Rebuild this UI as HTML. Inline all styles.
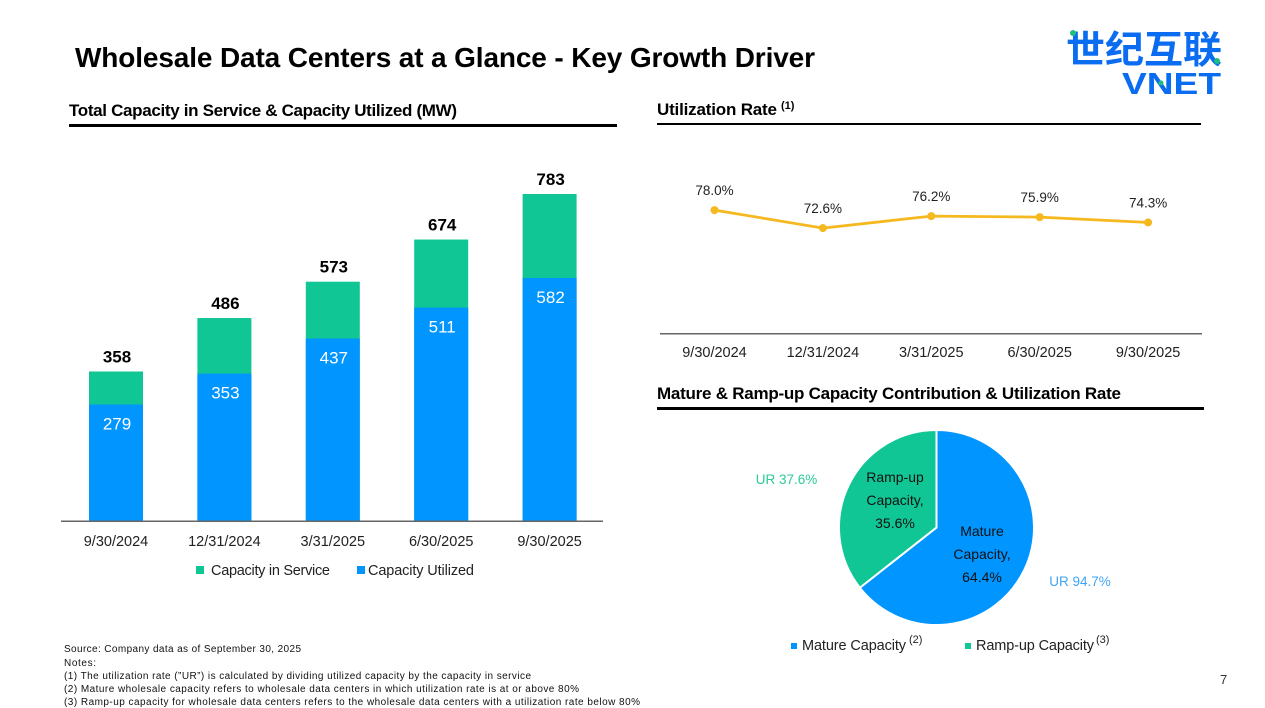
<!DOCTYPE html>
<html lang="en">
<head>
<meta charset="utf-8">
<title>Wholesale Data Centers at a Glance</title>
<style>
html,body{margin:0;padding:0;background:#fff;width:1265px;height:708px;overflow:hidden}
svg{display:block;font-family:"Liberation Sans","Noto Sans CJK SC",sans-serif}
</style>
</head>
<body>
<svg id="slide" width="1265" height="708" viewBox="0 0 1265 708" xmlns="http://www.w3.org/2000/svg">
  <text x="75" y="67" font-size="28" font-weight="700" fill="#000" textLength="740">Wholesale Data Centers at a Glance - Key Growth Driver</text>

  <g>
    <text x="1066" y="63" font-size="38" font-weight="700" fill="#0A6CF0" textLength="156" lengthAdjust="spacingAndGlyphs" style="font-family:'Noto Sans CJK SC',sans-serif">世纪互联</text>
    <text x="1122" y="94" font-size="31" font-weight="700" fill="#0A6CF0" textLength="99" lengthAdjust="spacingAndGlyphs">VNET</text>
    <circle cx="1073" cy="33" r="3" fill="#1DBE7E"/>
    <circle cx="1217" cy="61" r="3" fill="#1DBE7E"/>
    <circle cx="1161" cy="83" r="2.5" fill="#1DBE7E"/>
  </g>

  <text x="69" y="116" font-size="17" font-weight="700" fill="#000" textLength="388">Total Capacity in Service &amp; Capacity Utilized (MW)</text>
  <rect x="69" y="124" width="548" height="3" fill="#000"/>

  <text x="657" y="115" font-size="17" font-weight="700" fill="#000" textLength="120">Utilization Rate</text>
  <text x="781" y="109" font-size="11" font-weight="700" fill="#000">(1)</text>
  <rect x="657" y="123" width="544" height="2" fill="#000"/>

  <text x="657" y="399" font-size="17" font-weight="700" fill="#000" textLength="464">Mature &amp; Ramp-up Capacity Contribution &amp; Utilization Rate</text>
  <rect x="657" y="407" width="547" height="3" fill="#000"/>

  <g id="bars"></g>
  <g id="line"></g>
  <g id="pie"></g>

  <g>
    <rect x="196" y="566" width="8" height="8" fill="#10C695"/>
    <text x="211" y="575" font-size="14.5" fill="#222" textLength="119">Capacity in Service</text>
    <rect x="357" y="566" width="8" height="8" fill="#0095FF"/>
    <text x="368" y="575" font-size="14.5" fill="#222" textLength="106">Capacity Utilized</text>
  </g>

  <g>
    <rect x="791" y="643" width="6" height="6" fill="#0095FF"/>
    <text x="802" y="650" font-size="14.5" fill="#222" textLength="104">Mature Capacity</text>
    <text x="909" y="643" font-size="11" fill="#222">(2)</text>
    <rect x="965" y="643" width="6" height="6" fill="#10C695"/>
    <text x="976" y="650" font-size="14.5" fill="#222" textLength="118">Ramp-up Capacity</text>
    <text x="1096" y="643" font-size="11" fill="#222">(3)</text>
  </g>

  <g font-size="10" fill="#111">
    <text x="64" y="652" textLength="237">Source: Company data as of September 30, 2025</text>
    <text x="64" y="666" textLength="32">Notes:</text>
    <text x="64" y="679" textLength="467">(1) The utilization rate (”UR”) is calculated by dividing utilized capacity by the capacity in service</text>
    <text x="64" y="692" textLength="515">(2) Mature wholesale capacity refers to wholesale data centers in which utilization rate is at or above 80%</text>
    <text x="64" y="705" textLength="576">(3) Ramp-up capacity for wholesale data centers refers to the wholesale data centers with a utilization rate below 80%</text>
  </g>
  <text x="1220" y="684" font-size="13" fill="#333">7</text>
</svg>

<script>
var NS = 'http://www.w3.org/2000/svg';

// Capacity chart data
var barCategories = ['9/30/2024', '12/31/2024', '3/31/2025', '6/30/2025', '9/30/2025'];
var capacityInService = [358, 486, 573, 674, 783];
var capacityUtilized = [279, 353, 437, 511, 582];

// Utilization chart data
var lineCategories = ['9/30/2024', '12/31/2024', '3/31/2025', '6/30/2025', '9/30/2025'];
var utilizationRates = [78.0, 72.6, 76.2, 75.9, 74.3];

// Pie chart data
var pieLabels = ['Mature', 'Ramp-up'];
var pieShares = [64.4, 35.6];
var pieRates = [94.7, 37.6];

function make(parent, tag, attrs, text) {
  var el = document.createElementNS(NS, tag);
  for (var k in attrs) el.setAttribute(k, attrs[k]);
  if (text !== undefined) el.textContent = text;
  parent.appendChild(el);
  return el;
}

// Bar chart axes
var barBase = 521, barScale = 327 / 783, barWidth = 54;
function barX(i) { return 116 + i * 108.4; }
function barY(v) { return barBase - v * barScale; }

var barsG = document.getElementById('bars');
barCategories.forEach(function (cat, i) {
  var cx = barX(i);
  var total = capacityInService[i], used = capacityUtilized[i];
  var r1 = make(barsG, 'rect', {x: cx - barWidth / 2, y: barY(total), width: barWidth, height: barBase - barY(total), fill: '#10C695'});
  
  
  var r2 = make(barsG, 'rect', {x: cx - barWidth / 2, y: barY(used), width: barWidth, height: barBase - barY(used), fill: '#0095FF'});
  
  
  var t1 = make(barsG, 'text', {x: cx + 1, y: barY(total) - 9, 'text-anchor': 'middle', 'font-size': 17, 'font-weight': 700, fill: '#000'}, String(total));
  
  
  var t2 = make(barsG, 'text', {x: cx + 1, y: barY(used) + 25, 'text-anchor': 'middle', 'font-size': 17, fill: '#fff'}, String(used));
  
  
  var t3 = make(barsG, 'text', {x: cx, y: 546, 'text-anchor': 'middle', 'font-size': 14.5, fill: '#222'}, cat);
  
  
});
var barAxis = make(barsG, 'rect', {x: 61, y: 520.5, width: 542, height: 1.5, fill: '#666'});



// Line chart axes
var lineBase = 333, lineScale = 3.33, lineMin = 41.1;
function lineX(i) { return 714.5 + i * 108.4; }
function lineY(v) { return lineBase - (v - lineMin) * lineScale; }

var lineG = document.getElementById('line');
var lineAxis = make(lineG, 'rect', {x: 660, y: 333, width: 542, height: 1.5, fill: '#666'});


var linePts = utilizationRates.map(function (v, i) { return lineX(i) + ',' + lineY(v); }).join(' ');
var poly = make(lineG, 'polyline', {points: linePts, fill: 'none', stroke: '#F5B81E', 'stroke-width': 2.75});


utilizationRates.forEach(function (v, i) {
  var c = make(lineG, 'circle', {cx: lineX(i), cy: lineY(v), r: 4, fill: '#F5B81E'});
  
  
  var t = make(lineG, 'text', {x: lineX(i), y: lineY(v) - 15, 'text-anchor': 'middle', 'font-size': 13.5, fill: '#222'}, v.toFixed(1) + '%');
  
  
  var x = make(lineG, 'text', {x: lineX(i), y: 357, 'text-anchor': 'middle', 'font-size': 14.5, fill: '#222'}, lineCategories[i]);
  
  
});

// Pie chart
var pieCx = 936.5, pieCy = 527.5, pieR = 97.5;
var pieColors = ['#0095FF', '#10C695'];
var rateColors = ['#3FA4F5', '#2CC99A'];
var labelPos = [[982, 536], [895, 482]];
var ratePos = [[1080, 586], [786.5, 484]];
function piePoint(pct) {
  var a = pct / 100 * 2 * Math.PI - Math.PI / 2;
  return [pieCx + pieR * Math.cos(a), pieCy + pieR * Math.sin(a)];
}
var pieG = document.getElementById('pie');
var sumShares = pieShares.reduce(function (a, b) { return a + b; }, 0);
var cum = 0;
pieShares.forEach(function (s, i) {
  var pct = s / sumShares * 100;
  var p0 = piePoint(cum), p1 = piePoint(cum + pct);
  var d = 'M' + pieCx + ' ' + pieCy + ' L' + p0[0] + ' ' + p0[1] + ' A' + pieR + ' ' + pieR + ' 0 ' + (pct > 50 ? 1 : 0) + ' 1 ' + p1[0] + ' ' + p1[1] + ' Z';
  var sl = make(pieG, 'path', {d: d, fill: pieColors[i], stroke: '#fff', 'stroke-width': 2});
  
  
  cum += pct;
});
pieShares.forEach(function (s, i) {
  var lines = [pieLabels[i], 'Capacity,', s.toFixed(1) + '%'];
  lines.forEach(function (txt, j) {
    var t = make(pieG, 'text', {x: labelPos[i][0], y: labelPos[i][1] + j * 23, 'text-anchor': 'middle', 'font-size': 14, fill: '#111'}, txt);
    
    
  });
  var r = make(pieG, 'text', {x: ratePos[i][0], y: ratePos[i][1], 'text-anchor': 'middle', 'font-size': 13.5, fill: rateColors[i]}, 'UR ' + pieRates[i].toFixed(1) + '%');
  
  
});
</script>
</body>
</html>
